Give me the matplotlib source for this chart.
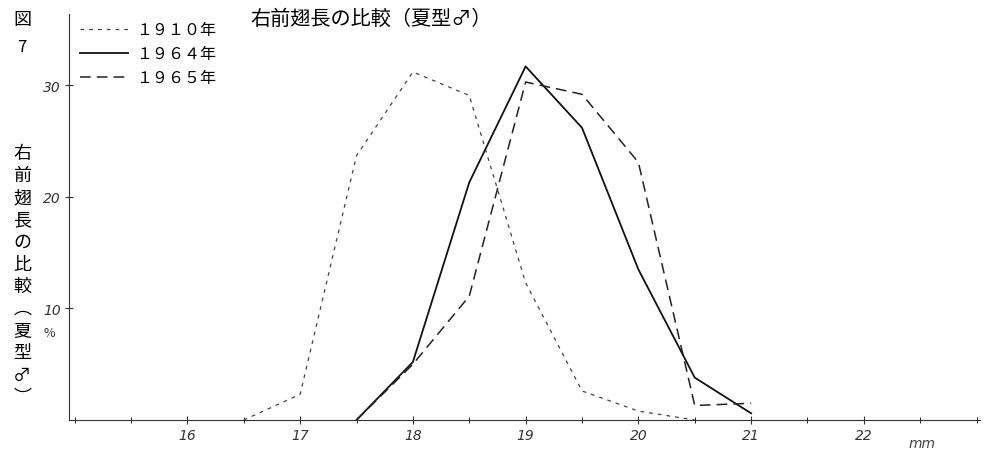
import matplotlib.pyplot as plt
from matplotlib.ticker import MultipleLocator

plt.rcParams['font.family'] = ['Noto Sans CJK JP', 'DejaVu Sans']

# forewing length (mm) and share (%)
x_1910 = [16.5, 17.0, 17.5, 18.0, 18.5, 19.0, 19.5, 20.0, 20.5]
y_1910 = [0, 2.3, 23.7, 31.2, 29.1, 12.3, 2.6, 0.8, 0]

x_1964 = [17.5, 18.0, 18.5, 19.0, 19.5, 20.0, 20.5, 21.0]
y_1964 = [0, 5.2, 21.3, 31.7, 26.2, 13.5, 3.8, 0.6]

x_1965 = [17.5, 18.0, 18.5, 19.0, 19.5, 20.0, 20.5, 21.0]
y_1965 = [0, 5.0, 11.1, 30.3, 29.2, 23.1, 1.3, 1.5]

labels = ['１９１０年', '１９６４年', '１９６５年']
x_ticks = [16, 17, 18, 19, 20, 21, 22]
y_ticks = [10, 20, 30]

fig = plt.figure(figsize=(10.04, 4.52), dpi=100)
ax = fig.add_axes([69 / 1004, 1 - 421 / 452, (980 - 69) / 1004, (421 - 15) / 452])

l1, = ax.plot(x_1910, y_1910, color='#444444', lw=0.9, dashes=(3, 4))
l2, = ax.plot(x_1964, y_1964, color='#111111', lw=1.3)
l3, = ax.plot(x_1965, y_1965, color='#222222', lw=1.1, dashes=(7, 4))

ax.set_xlim(14.95, 23.03)
ax.set_ylim(0, 36.4)
ax.spines['top'].set_visible(False)
ax.spines['right'].set_visible(False)
for s in ['left', 'bottom']:
    ax.spines[s].set_linewidth(0.8)
    ax.spines[s].set_color('#333333')

ax.set_xticks(x_ticks)
ax.set_xticklabels([str(t) for t in x_ticks], fontstyle='italic', fontsize=10,
                   color='#444444', family='DejaVu Sans')
ax.xaxis.set_minor_locator(MultipleLocator(0.5))
ax.set_yticks(y_ticks)
ax.set_yticklabels([str(t) for t in y_ticks], fontstyle='italic', fontsize=10,
                   color='#222222', family='DejaVu Sans')
ax.tick_params(axis='both', direction='inout', length=6, width=0.8, pad=3, colors='#333333')
ax.tick_params(axis='x', which='minor', direction='inout', length=4, width=0.6)
ax.text(22.52, -1.4, 'mm', fontstyle='italic', fontsize=10, color='#444444',
        ha='center', va='top', family='DejaVu Sans')
ax.text(-0.015, 7.8, '%', transform=ax.get_yaxis_transform(), fontsize=9,
        color='#333333', ha='right', va='center', fontstyle='italic')

ax.legend([l1, l2, l3], labels, loc='upper left', bbox_to_anchor=(0.0, 1.01),
          frameon=False, fontsize=11.5, handlelength=3.0, handletextpad=0.5,
          labelspacing=0.45, borderaxespad=0.3)

fig.text(0.37, 0.958, '右前翅長の比較（夏型♂）', fontsize=14.5, ha='center', va='center')
fig.text(0.022, 0.955, '図', fontsize=13, ha='center', va='center')
fig.text(0.022, 0.895, '7', fontsize=12, ha='center', va='center')

vlabel = ['右', '前', '翅', '長', 'の', '比', '較', '︵', '夏', '型', '♂', '︶']
fig.text(0.022, 0.39, '\n'.join(vlabel), fontsize=13, ha='center', va='center',
         linespacing=1.3)

fig.savefig('out.png', dpi=100)
